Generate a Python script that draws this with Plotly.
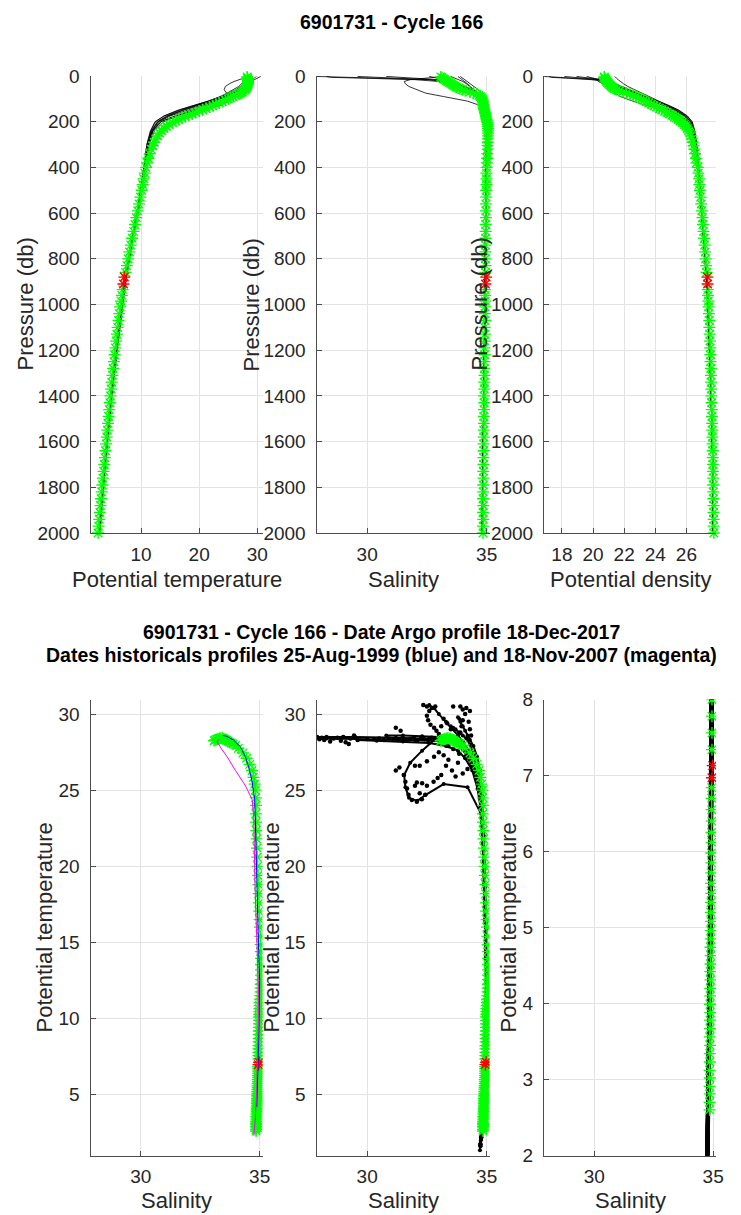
import plotly.graph_objects as go

# ---------------- Argo profile (cycle 166) ----------------
ARGO_P = [4, 8, 12, 16, 20, 24, 28, 32, 36, 40, 44, 48, 52, 56,
          60, 65, 70, 75, 80, 85, 90, 95, 100, 106, 112, 118, 124, 130, 136, 142, 148, 154, 160, 166,
          172, 178, 184, 190, 196, 204, 212, 220, 230, 240, 250, 262, 275, 290, 305, 320, 340, 360, 380,
          400, 425, 450, 475, 500, 530, 560, 590, 620, 650, 680, 710, 740, 770, 800, 830, 860, 935, 960, 985,
          1010, 1040, 1070, 1100, 1130, 1160, 1190, 1220, 1250, 1280, 1310, 1340, 1370, 1400, 1430, 1460,
          1490, 1520, 1550, 1580, 1610, 1640, 1670, 1700, 1730, 1760, 1790, 1820, 1850, 1880, 1910, 1940,
          1970, 2000]
ARGO_T = [28.25, 28.30, 28.34, 28.38, 28.40, 28.42, 28.41, 28.38, 28.33, 28.28, 28.22, 28.16, 28.10, 28.03,
          27.95, 27.75, 27.45, 27.10, 26.70, 26.30, 25.85, 25.40, 25.00, 24.50, 24.00, 23.45, 22.90, 22.35,
          21.80, 21.20, 20.60, 20.00, 19.40, 18.80, 18.20, 17.60, 17.05, 16.50, 16.00, 15.40, 14.85, 14.40,
          13.95, 13.55, 13.20, 12.85, 12.55, 12.25, 12.00, 11.75, 11.50, 11.25, 11.05,
          10.85, 10.65, 10.45, 10.28, 10.10, 9.88, 9.65, 9.42, 9.18, 8.95, 8.70, 8.46, 8.22, 8.00, 7.78,
          7.56, 7.34, 6.84, 6.70, 6.55,
          6.40, 6.25, 6.12, 5.98, 5.85, 5.72, 5.58, 5.45, 5.33, 5.20, 5.08, 4.96, 4.85, 4.74, 4.63, 4.52,
          4.42, 4.31, 4.20, 4.10, 3.99, 3.88, 3.78, 3.67, 3.56, 3.45, 3.34, 3.23, 3.12, 3.02, 2.91, 2.81,
          2.70, 2.60]
ARGO_S = [33.08, 33.13, 33.19, 33.25, 33.31, 33.37, 33.43, 33.49, 33.55, 33.61, 33.67, 33.73, 33.80, 33.88,
          34.00, 34.10, 34.30, 34.45, 34.58, 34.68, 34.74, 34.79, 34.82, 34.84, 34.85, 34.84, 34.85, 34.86,
          34.87, 34.89, 34.90, 34.92, 34.93, 34.95, 34.96, 34.97, 34.98, 35.00, 35.01, 35.03, 35.04, 35.05,
          35.06, 35.06, 35.06, 35.06, 35.05, 35.05, 35.04, 35.04, 35.03, 35.02, 35.01,
          35.00, 34.99, 34.99, 34.99, 34.98, 34.98, 34.97, 34.97, 34.97, 34.96, 34.96, 34.96, 34.95, 34.95,
          34.95, 34.95, 34.95, 34.94, 34.94, 34.94,
          34.94, 34.93, 34.94, 34.92, 34.93, 34.92, 34.91, 34.92, 34.91, 34.90, 34.91, 34.90, 34.90, 34.89,
          34.90, 34.89, 34.88, 34.89, 34.88, 34.88, 34.87, 34.88, 34.87, 34.87, 34.86, 34.87, 34.86, 34.86,
          34.85, 34.86, 34.85, 34.86, 34.85, 34.85]
ARGO_SIG = [20.72, 20.74, 20.77, 20.80, 20.84, 20.88, 20.93, 20.98, 21.04, 21.10, 21.16, 21.22, 21.29, 21.37,
            21.53, 21.67, 21.92, 22.14, 22.37, 22.57, 22.76, 22.94, 23.09, 23.26, 23.42, 23.58, 23.75, 23.92,
            24.08, 24.26, 24.43, 24.60, 24.76, 24.92, 25.07, 25.22, 25.35, 25.48, 25.60, 25.74, 25.86, 25.96,
            26.06, 26.15, 26.22, 26.29, 26.35, 26.41, 26.46, 26.51, 26.56, 26.61, 26.65,
            26.73, 26.77, 26.81, 26.84, 26.87, 26.91, 26.95, 26.99, 27.03, 27.06, 27.10, 27.14, 27.17, 27.21,
            27.24, 27.27, 27.30, 27.37, 27.39, 27.41,
            27.43, 27.45, 27.47, 27.48, 27.50, 27.51, 27.53, 27.54, 27.55, 27.57, 27.58, 27.59, 27.60, 27.61,
            27.62, 27.63, 27.64, 27.65, 27.66, 27.67, 27.68, 27.69, 27.69, 27.70, 27.71, 27.72, 27.72, 27.73,
            27.73, 27.74, 27.74, 27.75, 27.75, 27.76]

# red (flagged) levels
RED_P = [880, 910]
RED_T = [7.13, 6.97]
RED_S = [34.98, 34.95]
RED_SIG = [27.35, 27.36]

# ---------------- historical profiles (black) ----------------
HIST_P = [2, 6, 10, 16, 24, 34, 46, 60, 75, 90, 110, 130, 150, 175, 200, 240, 300, 400, 550, 700,
          900, 1100, 1400, 1700, 2000, 2300, 2600]
HIST_T = [
    [28.5, 28.5, 28.45, 28.4, 28.35, 28.3, 28.1, 27.3, 26.2, 24.8, 22.8, 20.3, 17.8, 15.0, 13.2, 12.0, 11.2, 10.6, 9.7, 8.6, 7.3, 6.3, 4.9, 3.8, 2.8, 2.2, 1.7],
    [28.4, 28.4, 28.35, 28.3, 28.25, 28.2, 27.9, 27.0, 25.8, 24.3, 22.0, 19.3, 16.8, 14.4, 12.8, 11.8, 11.1, 10.6, 9.7, 8.6, 7.3, 6.3, 4.9, 3.8, 2.8, 2.2, 1.7],
    [30.6, 30.4, 30.0, 29.5, 29.0, 28.6, 28.2, 27.6, 26.8, 25.6, 23.6, 21.0, 18.6, 15.8, 13.5, 12.1, 11.3, 10.7, 9.8, 8.6, 7.3, 6.3, 4.9, 3.8, 2.8, 2.0, 1.35],
    [29.8, 29.7, 29.5, 29.2, 28.9, 28.6, 28.3, 27.9, 27.2, 26.3, 24.6, 22.0, 19.4, 16.3, 13.9, 12.3, 11.4, 10.8, 9.9, 8.7, 7.4, 6.4, 5.0, 3.9, 2.9, 2.3, 1.8],
    [28.4, 28.3, 27.6, 26.8, 26.0, 25.2, 24.5, 24.3, 24.7, 25.4, 25.2, 23.5, 19.5, 15.8, 13.4, 12.0, 11.2, 10.6, 9.7, 8.6, 7.3, 6.3, 4.9, 3.8, 2.8, 2.2, 1.7],
    [28.0, 28.0, 27.9, 27.8, 27.6, 27.3, 26.8, 25.9, 24.8, 23.6, 21.6, 19.0, 16.5, 14.0, 12.4, 11.6, 11.0, 10.5, 9.6, 8.5, 7.2, 6.2, 4.8, 3.7, 2.7, 2.1, 1.6],
    [28.6, 28.6, 28.55, 28.5, 28.4, 28.2, 27.7, 26.7, 25.4, 24.0, 21.9, 19.6, 17.2, 14.7, 13.0, 11.9, 11.2, 10.6, 9.7, 8.6, 7.3, 6.3, 4.9, 3.8, 2.8, 2.2, 1.7],
    [29.2, 29.1, 29.0, 28.8, 28.6, 28.4, 28.0, 27.2, 26.0, 24.6, 22.4, 19.8, 17.2, 14.6, 12.9, 11.8, 11.1, 10.6, 9.7, 8.6, 7.3, 6.3, 4.9, 3.8, 2.8, 2.2, 1.7],
    [28.3, 28.25, 28.2, 28.1, 27.9, 27.6, 27.1, 26.3, 25.1, 23.8, 21.5, 18.8, 16.3, 13.9, 12.5, 11.7, 11.0, 10.5, 9.6, 8.5, 7.2, 6.2, 4.8, 3.7, 2.7, 2.1, 1.6],
]
HIST_S = [
    [27.9, 29.5, 31.2, 32.6, 33.3, 33.6, 33.85, 34.25, 34.55, 34.72, 34.83, 34.88, 34.92, 34.97, 35.0, 35.01, 35.0, 34.98, 34.96, 34.95, 34.94, 34.92, 34.88, 34.84, 34.8, 34.77, 34.74],
    [28.3, 28.5, 30.0, 32.0, 33.0, 33.5, 33.9, 34.3, 34.6, 34.76, 34.85, 34.9, 34.94, 34.98, 35.0, 35.0, 34.99, 34.98, 34.96, 34.95, 34.94, 34.92, 34.88, 34.84, 34.8, 34.77, 34.74],
    [32.6, 32.8, 33.0, 33.3, 33.6, 33.8, 34.0, 34.25, 34.5, 34.68, 34.8, 34.87, 34.92, 34.97, 35.0, 35.01, 35.0, 34.98, 34.96, 34.95, 34.94, 34.92, 34.88, 34.84, 34.8, 34.76, 34.72],
    [33.8, 33.85, 33.9, 34.0, 34.1, 34.2, 34.3, 34.45, 34.6, 34.72, 34.82, 34.88, 34.93, 34.98, 35.02, 35.03, 35.01, 34.99, 34.97, 34.95, 34.94, 34.92, 34.88, 34.84, 34.8, 34.77, 34.74],
    [33.2, 32.8, 32.3, 31.8, 31.55, 31.6, 31.75, 32.1, 32.45, 33.2, 34.2, 34.75, 34.9, 34.97, 35.0, 35.0, 34.99, 34.98, 34.96, 34.95, 34.94, 34.92, 34.88, 34.84, 34.8, 34.77, 34.74],
    [33.9, 33.95, 34.0, 34.1, 34.2, 34.35, 34.5, 34.65, 34.75, 34.82, 34.87, 34.9, 34.93, 34.96, 34.99, 35.0, 34.99, 34.97, 34.96, 34.95, 34.94, 34.92, 34.88, 34.84, 34.8, 34.77, 34.74],
    [30.8, 31.5, 32.3, 33.0, 33.4, 33.7, 34.0, 34.35, 34.62, 34.76, 34.85, 34.9, 34.94, 34.98, 35.0, 35.01, 35.0, 34.98, 34.96, 34.95, 34.94, 34.92, 34.88, 34.84, 34.8, 34.77, 34.74],
    [33.5, 33.6, 33.7, 33.85, 34.0, 34.15, 34.3, 34.5, 34.66, 34.77, 34.85, 34.9, 34.94, 34.98, 35.0, 35.0, 34.99, 34.98, 34.96, 34.95, 34.94, 34.92, 34.88, 34.84, 34.8, 34.77, 34.74],
    [29.6, 30.4, 31.5, 32.6, 33.3, 33.8, 34.1, 34.4, 34.62, 34.75, 34.84, 34.89, 34.93, 34.97, 34.99, 35.0, 34.99, 34.97, 34.96, 34.95, 34.94, 34.92, 34.88, 34.84, 34.8, 34.77, 34.74],
]
HIST_SIG = [
    [16.86, 18.03, 19.28, 20.32, 20.85, 21.08, 21.33, 21.88, 22.47, 23.09, 23.78, 24.51, 25.17, 25.83, 26.18, 26.44, 26.62, 26.77, 26.94, 27.12, 27.31, 27.43, 27.59, 27.69, 27.74, 27.77, 27.80],
    [17.18, 17.33, 18.44, 19.91, 20.66, 21.05, 21.44, 22.02, 22.80, 23.26, 24.02, 24.79, 25.41, 25.96, 26.30, 26.50, 26.64, 26.77, 26.94, 27.12, 27.31, 27.43, 27.59, 27.69, 27.74, 27.77, 27.80],
    [19.59, 19.81, 20.08, 20.47, 20.85, 21.13, 21.41, 21.78, 22.24, 22.79, 23.54, 24.32, 24.97, 25.65, 26.13, 26.43, 26.60, 26.75, 26.92, 27.12, 27.31, 27.43, 27.59, 27.69, 27.74, 27.78, 27.82],
    [20.74, 20.80, 20.91, 21.08, 21.25, 21.42, 21.59, 21.84, 22.18, 22.56, 23.22, 24.04, 24.76, 25.53, 26.05, 26.39, 26.58, 26.73, 26.91, 27.10, 27.30, 27.42, 27.58, 27.68, 27.74, 27.77, 27.79],
    [20.76, 20.50, 20.36, 20.27, 20.34, 20.65, 20.99, 21.30, 21.43, 21.75, 22.55, 23.50, 24.73, 25.65, 26.17, 26.46, 26.62, 26.77, 26.94, 27.12, 27.31, 27.43, 27.59, 27.69, 27.74, 27.77, 27.80],
    [21.40, 21.44, 21.51, 21.61, 21.75, 21.96, 22.24, 22.67, 23.11, 23.54, 24.14, 24.86, 25.48, 26.03, 26.37, 26.54, 26.66, 26.79, 26.96, 27.13, 27.33, 27.44, 27.60, 27.70, 27.75, 27.78, 27.81],
    [18.94, 19.45, 20.05, 20.58, 20.90, 21.19, 21.57, 22.16, 22.82, 23.35, 24.05, 24.70, 25.31, 25.89, 26.26, 26.48, 26.62, 26.77, 26.94, 27.12, 27.31, 27.43, 27.59, 27.69, 27.74, 27.77, 27.80],
    [20.72, 20.82, 20.92, 21.10, 21.27, 21.45, 21.69, 22.11, 22.65, 23.17, 23.90, 24.65, 25.31, 25.92, 26.28, 26.50, 26.64, 26.77, 26.94, 27.12, 27.31, 27.43, 27.59, 27.69, 27.74, 27.77, 27.80],
    [18.16, 18.76, 19.59, 20.42, 21.00, 21.46, 21.84, 22.32, 22.91, 23.41, 24.17, 24.92, 25.53, 26.07, 26.35, 26.52, 26.66, 26.79, 26.96, 27.13, 27.33, 27.44, 27.60, 27.70, 27.75, 27.78, 27.81],
]

# loose historical T-S samples (bottom-middle scatter)
DOT_S = [27.9, 28.0, 28.1, 28.2, 28.3, 28.45, 28.6, 28.75, 28.9, 29.0, 29.1, 29.23, 29.3, 29.45, 29.6,
         30.3, 30.5, 30.7, 30.9, 31.1, 31.3, 31.45, 31.6, 31.8, 31.95, 32.1, 32.25, 32.4, 32.55, 32.7,
         32.85, 33.0, 33.15,
         32.35, 32.5, 32.7, 32.85, 32.6, 32.5, 32.55, 32.65, 32.8, 33.6, 33.9, 34.0, 34.15, 34.3, 34.1,
         34.0, 33.95, 33.9, 34.25, 34.3, 34.35, 33.2, 33.35, 33.5, 33.1, 31.2, 31.4, 32.9, 33.0,
         31.53, 31.6, 31.67, 31.73, 31.87, 32.08, 32.29, 32.43, 32.2, 32.0, 32.08, 32.3, 32.5, 32.78,
         32.95, 33.1, 32.2, 32.5, 32.8, 33.0, 33.2, 33.4, 33.3, 33.55, 33.7, 33.8, 33.85, 34.1, 34.2,
         34.0, 33.6, 33.4, 31.2, 31.35, 32.0]
DOT_T = [28.5, 28.35, 28.45, 28.3, 28.5, 28.2, 28.4, 28.45, 28.25, 28.5, 28.15, 28.03, 28.4, 28.6, 28.3,
         28.35, 28.4, 28.3, 28.4, 28.35, 28.3, 28.4, 28.3, 28.35, 28.45, 28.3, 28.4, 28.35, 28.3, 28.45,
         28.35, 28.3, 28.45,
         30.6, 30.5, 30.4, 30.5, 30.2, 29.9, 29.6, 29.3, 29.1, 30.5, 30.5, 30.3, 30.4, 30.2, 30.0,
         29.6, 29.2, 28.8, 29.5, 29.0, 28.6, 29.7, 29.4, 29.0, 29.2, 29.1, 28.9, 28.9, 28.7,
         26.0, 25.56, 25.12, 24.7, 24.36, 24.25, 24.4, 24.7, 24.8, 25.3, 25.5, 25.45, 25.3, 25.56,
         25.8, 26.0, 26.6, 26.9, 27.2, 27.5, 27.3, 27.0, 26.6, 26.3, 25.9, 26.8, 27.4, 27.2, 26.4,
         26.1, 27.7, 27.9, 26.3, 26.5, 26.6]

# historical reference profiles (bottom-left)
BLUE_S = [33.45, 33.6, 33.9, 34.19, 34.4, 34.54, 34.68, 34.79, 34.82, 34.84, 34.86, 34.9, 34.95, 35.0,
          35.0, 34.98, 34.96, 34.94, 34.91, 34.88]
BLUE_T = [28.6, 28.55, 28.3, 27.85, 27.2, 26.5, 25.6, 24.4, 23.0, 21.5, 20.0, 17.5, 15.0, 12.5, 11.0,
          10.0, 8.5, 7.0, 5.5, 4.2]
MAG_S = [33.3, 33.2, 33.4, 33.63, 33.98, 34.4, 34.68, 34.75, 34.77, 34.78, 34.8, 34.84, 34.9, 34.95,
         34.95, 34.93, 34.91, 34.87, 34.82, 34.76]
MAG_T = [28.35, 28.2, 27.7, 27.2, 26.3, 25.3, 24.4, 23.3, 22.0, 20.5, 19.0, 17.0, 14.5, 12.0, 10.0, 8.0,
         6.5, 5.0, 3.5, 2.3]

# tick values
P_TICKS = [0, 200, 400, 600, 800, 1000, 1200, 1400, 1600, 1800, 2000]
TEMP_TICKS = [10, 20, 30]
SAL_TICKS = [30, 35]
SIG_TICKS = [18, 20, 22, 24, 26]
TS_TICKS = [5, 10, 15, 20, 25, 30]
TS_ZOOM_TICKS = [2, 3, 4, 5, 6, 7, 8]

assert len(ARGO_P) == len(ARGO_T) == len(ARGO_S) == len(ARGO_SIG)
for a, b, c in zip(HIST_T, HIST_S, HIST_SIG):
    assert len(a) == len(b) == len(c) == len(HIST_P)
assert len(DOT_S) == len(DOT_T)
assert len(BLUE_S) == len(BLUE_T) and len(MAG_S) == len(MAG_T)

# ---------------- figure ----------------
W, H = 741, 1215
FONT = "Liberation Sans, Arial, Helvetica, sans-serif"
TXT = "#262626"


def fx(px):
    return px / W


def fy(py):
    return 1 - py / H


def joined(xlists, ylists):
    xs, ys = [], []
    for a, b in zip(xlists, ylists):
        xs += list(a) + [None]
        ys += list(b) + [None]
    return xs, ys


HP_LISTS = [HIST_P] * len(HIST_T)

GREEN = dict(symbol="asterisk-open", size=10, color="#00ff00", line=dict(color="#00ff00", width=1.3))
RED = dict(symbol="asterisk-open", size=10, color="#ff0000", line=dict(color="#ff0000", width=1.4))

fig = go.Figure()

# top row: property vs pressure
for i, (hx, ax, rx) in enumerate([(HIST_T, ARGO_T, RED_T), (HIST_S, ARGO_S, RED_S),
                                   (HIST_SIG, ARGO_SIG, RED_SIG)]):
    n = "" if i == 0 else str(i + 1)
    xs, ys = joined(hx, HP_LISTS)
    fig.add_trace(go.Scatter(x=xs, y=ys, mode="lines", line=dict(color="black", width=0.8),
                             xaxis="x" + n, yaxis="y" + n, hoverinfo="skip"))
    fig.add_trace(go.Scatter(x=ax, y=ARGO_P, mode="markers", marker=GREEN, cliponaxis=False,
                             xaxis="x" + n, yaxis="y" + n))
    fig.add_trace(go.Scatter(x=rx, y=RED_P, mode="markers", marker=RED, cliponaxis=False,
                             xaxis="x" + n, yaxis="y" + n))

# bottom-left: argo + two historical profiles
fig.add_trace(go.Scatter(x=ARGO_S, y=ARGO_T, mode="markers", marker=GREEN, xaxis="x4", yaxis="y4"))
fig.add_trace(go.Scatter(x=RED_S, y=RED_T, mode="markers", marker=RED, xaxis="x4", yaxis="y4"))
fig.add_trace(go.Scatter(x=BLUE_S, y=BLUE_T, mode="lines", line=dict(color="#0000ff", width=1),
                         xaxis="x4", yaxis="y4"))
fig.add_trace(go.Scatter(x=MAG_S, y=MAG_T, mode="lines", line=dict(color="#ff00ff", width=1),
                         xaxis="x4", yaxis="y4"))

# bottom-middle: all historical samples
xs, ys = joined(HIST_S, HIST_T)
fig.add_trace(go.Scatter(x=xs, y=ys, mode="lines+markers", line=dict(color="black", width=2),
                         marker=dict(color="black", size=4), xaxis="x5", yaxis="y5"))
fig.add_trace(go.Scatter(x=DOT_S, y=DOT_T, mode="markers", marker=dict(color="black", size=4.5),
                         xaxis="x5", yaxis="y5"))
fig.add_trace(go.Scatter(x=ARGO_S, y=ARGO_T, mode="markers", marker=GREEN, xaxis="x5", yaxis="y5"))
fig.add_trace(go.Scatter(x=RED_S, y=RED_T, mode="markers", marker=RED, xaxis="x5", yaxis="y5"))

# bottom-right: deep zoom
fig.add_trace(go.Scatter(x=xs, y=ys, mode="lines", line=dict(color="black", width=4),
                         xaxis="x6", yaxis="y6"))
fig.add_trace(go.Scatter(x=ARGO_S, y=ARGO_T, mode="markers", marker=GREEN, xaxis="x6", yaxis="y6"))
fig.add_trace(go.Scatter(x=RED_S, y=RED_T, mode="markers", marker=RED, xaxis="x6", yaxis="y6"))

AX = dict(showline=True, linecolor="#4d4d4d", linewidth=1, mirror=False, automargin=False,
          ticks="inside", ticklen=5, tickwidth=1, tickcolor="#4d4d4d",
          showgrid=True, gridcolor="#e3e3e3", gridwidth=1, zeroline=False,
          tickfont=dict(family=FONT, size=19, color=TXT), fixedrange=True)

TOP_DOM = [fy(533), fy(76)]
BOT_DOM = [fy(1155.5), fy(699.5)]
COLS = [(90.5, 262.5), (316.5, 489.5), (544, 716)]

SAL_RANGE = [27.88, 35.12]
layout_axes = {}
x_specs = [
    ("xaxis", "y", COLS[0], [1.3, 30.9], TEMP_TICKS),
    ("xaxis2", "y2", COLS[1], SAL_RANGE, SAL_TICKS),
    ("xaxis3", "y3", COLS[2], [16.85, 27.9], SIG_TICKS),
    ("xaxis4", "y4", COLS[0], SAL_RANGE, SAL_TICKS),
    ("xaxis5", "y5", COLS[1], SAL_RANGE, SAL_TICKS),
    ("xaxis6", "y6", COLS[2], SAL_RANGE, SAL_TICKS),
]
for name, anchor, col, rng, tv in x_specs:
    layout_axes[name] = dict(AX, domain=[fx(col[0]), fx(col[1])], anchor=anchor, range=rng,
                             tickvals=tv, ticklabelstandoff=4)
y_specs = [
    ("yaxis", "x", COLS[0], TOP_DOM, [2000, 0], P_TICKS),
    ("yaxis2", "x2", COLS[1], TOP_DOM, [2000, 0], P_TICKS),
    ("yaxis3", "x3", COLS[2], TOP_DOM, [2000, 0], P_TICKS),
    ("yaxis4", "x4", COLS[0], BOT_DOM, [1.0, 30.96], TS_TICKS),
    ("yaxis5", "x5", COLS[1], BOT_DOM, [1.0, 30.96], TS_TICKS),
    ("yaxis6", "x6", COLS[2], BOT_DOM, [2, 8], TS_ZOOM_TICKS),
]
for name, anchor, col, dom, rng, tv in y_specs:
    layout_axes[name] = dict(AX, domain=dom, anchor=anchor, range=rng, tickvals=tv,
                             ticklabelstandoff=6)

ann = []


def label(text, x, y, size=22, angle=0, bold=False):
    ann.append(dict(text=text, x=fx(x), y=fy(y), xref="paper", yref="paper", showarrow=False,
                    xanchor="center", yanchor="middle", textangle=angle,
                    font=dict(family=FONT, size=size, color="black" if bold else TXT,
                              weight="bold" if bold else "normal")))


label("6901731 - Cycle 166", 391, 22, size=19.5, bold=True)
label("6901731 - Cycle 166 - Date Argo profile 18-Dec-2017", 381, 632, size=19.5, bold=True)
label("Dates historicals profiles 25-Aug-1999 (blue) and 18-Nov-2007 (magenta)", 381, 655,
      size=19.5, bold=True)
for (c0, c1), t in zip(COLS, ["Potential temperature", "Salinity", "Potential density"]):
    label(t, (c0 + c1) / 2, 579)
for c0, c1 in COLS:
    label("Salinity", (c0 + c1) / 2, 1200)
for xpos in [25, 251, 479]:
    label("Pressure (db)", xpos, 304.5, angle=-90)
for xpos in [44, 271, 508]:
    label("Potential temperature", xpos, 927.5, angle=-90)

fig.update_layout(width=W, height=H, margin=dict(l=0, r=0, t=0, b=0, autoexpand=False),
                  autosize=False, paper_bgcolor="white", plot_bgcolor="white", showlegend=False,
                  font=dict(family=FONT, color=TXT), annotations=ann, **layout_axes)

fig.write_html("out.html", config={"displayModeBar": False},
               post_script="document.body.style.margin='0';")
